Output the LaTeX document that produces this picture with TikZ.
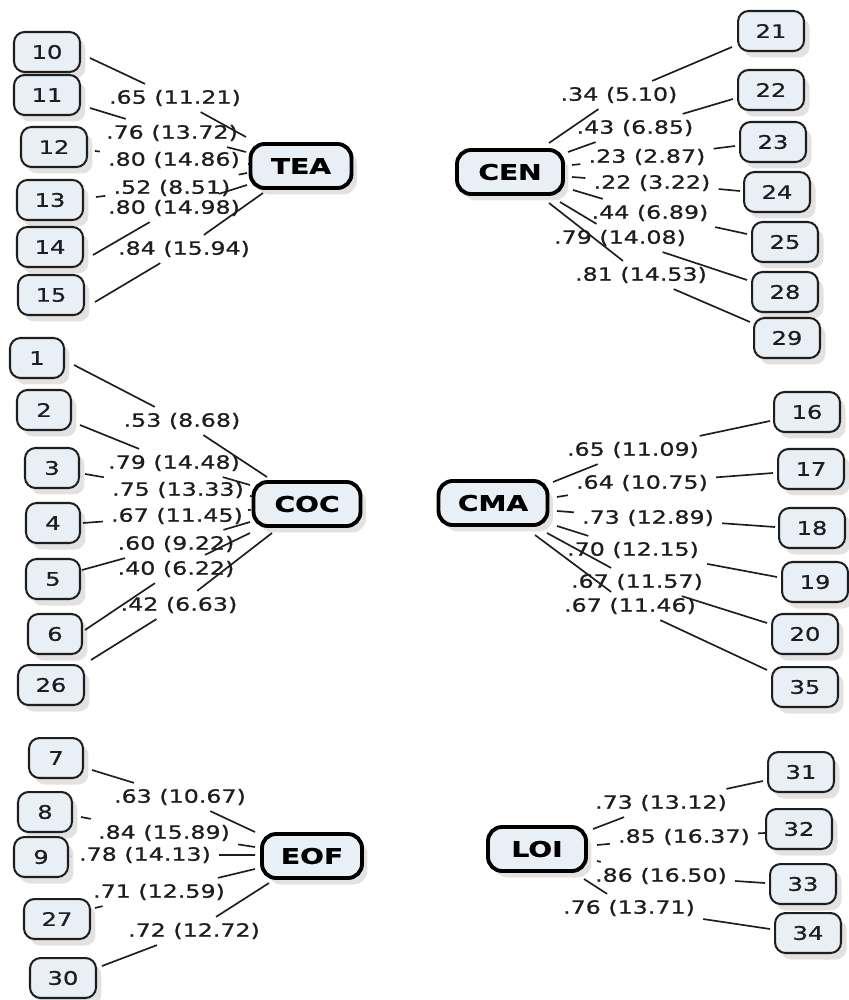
\documentclass[tikz,border=0pt]{standalone}
\usepackage{fontspec}
\newfontfamily\diagfont{DejaVu Sans}[FakeStretch=1.3,FakeBold=0.8]
\usetikzlibrary{shadows}
\definecolor{boxfill}{RGB}{232,240,245}
\definecolor{ink}{RGB}{30,30,30}

% one loading: label node on the path, line from indicator to factor broken by the label
\newcommand\lnk[6]{%
  \node[lab] (l#1) at (#3) {#4};
  \draw[conn] ([shift={(#2)}]n#1.center) -- (l#1) -- ([shift={(#6)}]#5.center);
}

\begin{document}
\begin{tikzpicture}[x=0.02cm,y=-0.02cm,
  boxshadow/.style={drop shadow={shadow xshift=0.11cm,shadow yshift=-0.13cm,fill=black!22}},
  ind/.style={draw=ink, line width=1.15pt, rounded corners=6pt, fill=boxfill,
    minimum height=0.8cm, inner sep=0pt, boxshadow,
    font=\diagfont\fontsize{10.6}{12}\selectfont, text=ink},
  two/.style={ind, minimum width=1.32cm},
  one/.style={ind, minimum width=1.08cm},
  lat/.style={draw=black, line width=2.2pt, rounded corners=8pt, fill=boxfill,
    minimum height=0.88cm, inner sep=0pt, boxshadow,
    font=\diagfont\bfseries\fontsize{12.3}{14}\selectfont},
  lab/.style={inner xsep=4.5pt, inner ysep=3.2pt, text=ink,
    font=\diagfont\fontsize{10.4}{12}\selectfont},
  conn/.style={line width=0.95pt, draw=ink}
]
\fill[white] (0,0) rectangle (848,1000);
\useasboundingbox (0,0) rectangle (848,1000);

% ---------- TEA ----------
\node[lat, minimum width=2.02cm] (TEA) at (301,166) {TEA};
\node[two] (n10) at (47,52) {10};
\node[two] (n11) at (47,95) {11};
\node[two] (n12) at (54,147) {12};
\node[two] (n13) at (50,200) {13};
\node[two] (n14) at (50,247) {14};
\node[two] (n15) at (51,295) {15};
\lnk{10}{43,6}{175,98}{.65 (11.21)}{TEA}{-55,-29}
\lnk{11}{43,13}{172,133}{.76 (13.72)}{TEA}{-55,-14}
\lnk{12}{41,4}{174,160}{.80 (14.86)}{TEA}{-52,-2}
\lnk{13}{46,-3}{172,188}{.52 (8.51)}{TEA}{-54,7}
\lnk{14}{43,8}{174,208}{.80 (14.98)}{TEA}{-54,19}
\lnk{15}{44,7}{184,249}{.84 (15.94)}{TEA}{-38,27}

% ---------- CEN ----------
\node[lat, minimum width=2.12cm] (CEN) at (510,172) {CEN};
\node[two] (n21) at (771,31) {21};
\node[two] (n22) at (771,90) {22};
\node[two] (n23) at (773,142) {23};
\node[two] (n24) at (777,192) {24};
\node[two] (n25) at (785,242) {25};
\node[two] (n28) at (785,292) {28};
\node[two] (n29) at (787,338) {29};
\lnk{21}{-39,16}{619,95}{.34 (5.10)}{CEN}{39,-29}
\lnk{22}{-38,9}{635,128}{.43 (6.85)}{CEN}{58,-20}
\lnk{23}{-38,4}{647,157}{.23 (2.87)}{CEN}{62,-7}
\lnk{24}{-37,-1}{652,183}{.22 (3.22)}{CEN}{62,5}
\lnk{25}{-38,-8}{650,213}{.44 (6.89)}{CEN}{63,18}
\lnk{28}{-38,-12}{620,238}{.79 (14.08)}{CEN}{50,30}
\lnk{29}{-37,-16}{641,275}{.81 (14.53)}{CEN}{39,31}

% ---------- COC ----------
\node[lat, minimum width=2.14cm] (COC) at (307,504) {COC};
\node[one] (n1) at (37,358) {1};
\node[one] (n2) at (44,410) {2};
\node[one] (n3) at (52,468) {3};
\node[one] (n4) at (53,523) {4};
\node[one] (n5) at (53,579) {5};
\node[one] (n6) at (55,634) {6};
\node[two] (n26) at (51,685) {26};
\lnk{1}{37,7}{182,421}{.53 (8.68)}{COC}{-40,-27}
\lnk{2}{36,15}{174,463}{.79 (14.48)}{COC}{-57,-19}
\lnk{3}{33,6}{178,490}{.75 (13.33)}{COC}{-57,-8}
\lnk{4}{30,0}{177,516}{.67 (11.45)}{COC}{-59,6}
\lnk{5}{29,-9}{176,544}{.60 (9.22)}{COC}{-57,18}
\lnk{6}{30,-4}{176,569}{.40 (6.22)}{COC}{-57,29}
\lnk{26}{40,-25}{179,605}{.42 (6.63)}{COC}{-35,29}

% ---------- CMA ----------
\node[lat, minimum width=2.18cm] (CMA) at (493,503) {CMA};
\node[two] (n16) at (807,412) {16};
\node[two] (n17) at (811,469) {17};
\node[two] (n18) at (812,528) {18};
\node[two] (n19) at (815,582) {19};
\node[two] (n20) at (805,634) {20};
\node[two] (n35) at (805,687) {35};
\lnk{16}{-37,9}{633,450}{.65 (11.09)}{CMA}{60,-21}
\lnk{17}{-38,4}{642,483}{.64 (10.75)}{CMA}{64,-6}
\lnk{18}{-37,-1}{648,518}{.73 (12.89)}{CMA}{64,8}
\lnk{19}{-38,-5}{633,550}{.70 (12.15)}{CMA}{64,23}
\lnk{20}{-38,-11}{637,582}{.67 (11.57)}{CMA}{54,30}
\lnk{35}{-38,-17}{630,606}{.67 (11.46)}{CMA}{42,32}

% ---------- EOF ----------
\node[lat, minimum width=2.0cm] (EOF) at (312,856) {EOF};
\node[one] (n7) at (56,758) {7};
\node[one] (n8) at (45,812) {8};
\node[one] (n9) at (41,857) {9};
\node[two] (n27) at (57,919) {27};
\node[two] (n30) at (63,978) {30};
\lnk{7}{36,12}{180,797}{.63 (10.67)}{EOF}{-57,-24}
\lnk{8}{36,5}{164,833}{.84 (15.89)}{EOF}{-57,-9}
\lnk{9}{30,-1}{145,855}{.78 (14.13)}{EOF}{-57,-1}
\lnk{27}{38,-11}{159,892}{.71 (12.59)}{EOF}{-57,13}
\lnk{30}{39,-12}{194,931}{.72 (12.72)}{EOF}{-43,27}

% ---------- LOI ----------
\node[lat, minimum width=1.96cm] (LOI) at (537,849) {LOI};
\node[two] (n31) at (801,772) {31};
\node[two] (n32) at (799,829) {32};
\node[two] (n33) at (803,884) {33};
\node[two] (n34) at (808,933) {34};
\lnk{31}{-38,9}{661,803}{.73 (13.12)}{LOI}{56,-20}
\lnk{32}{-34,4}{684,837}{.85 (16.37)}{LOI}{60,-4}
\lnk{33}{-38,-1}{661,876}{.86 (16.50)}{LOI}{60,12}
\lnk{34}{-38,-4}{629,908}{.76 (13.71)}{LOI}{47,30}
\end{tikzpicture}
\end{document}
